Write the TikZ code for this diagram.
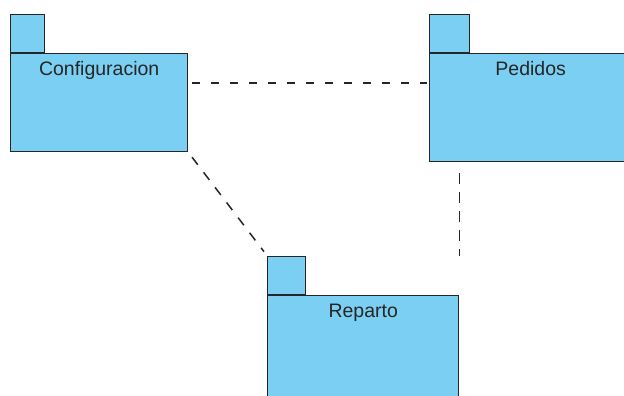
\documentclass[tikz,border=0pt]{standalone}
\usepackage{fontspec}
\setmainfont{Liberation Sans}
\usetikzlibrary{positioning}

\definecolor{pkgblue}{RGB}{122,207,242}
\tikzset{
  pkg/.style={draw=black!85, fill=pkgblue, line width=1.4pt, inner sep=0pt,
    anchor=north west, text height=22pt, font=\fontsize{19.5}{22}\selectfont,
    text=black!85},
  pkgtab/.style={draw=black!85, fill=pkgblue, line width=1.4pt, inner sep=0pt,
    minimum height=38pt},
  dep/.style={draw=black!85, line width=1.5pt, dash pattern=on 9.5pt off 9.5pt}
}

\begin{document}
\begin{tikzpicture}[x=1pt, y=-1pt]
  \clip (0,0) rectangle (624,396);
  \fill[white] (0,0) rectangle (624,396);

  % package bodies, name near the top
  \node[pkg, minimum width=177pt, text depth=76pt] (conf) at (10,53) {Configuracion};
  \node[pkg, minimum width=202pt, text depth=86pt] (ped) at (429,53) {Pedidos};
  \node[pkg, minimum width=191pt, text depth=120pt] (rep) at (267,295) {Reparto};

  % the small tabs on top
  \node[pkgtab, minimum width=34pt, above right=0pt and 0pt of conf.north west] (conftab) {};
  \node[pkgtab, minimum width=40pt, above right=0pt and 0pt of ped.north west] (pedtab) {};
  \node[pkgtab, minimum width=38pt, above right=0pt and 0pt of rep.north west] (reptab) {};

  % dependencies
  \draw[dep, dash pattern=on 8pt off 11pt, shorten <=4pt, shorten >=2pt] ([yshift=-30pt]conf.north east) -- ([yshift=-30pt]ped.north west);
  \draw[dep, shorten <=6pt, shorten >=5pt] (conf.south east) -- (reptab.north west);
  \draw[dep, dash pattern=on 11pt off 8pt, shorten <=11pt] (rep.north east |- ped.south) -- (rep.north east |- reptab.north);
\end{tikzpicture}
\end{document}
